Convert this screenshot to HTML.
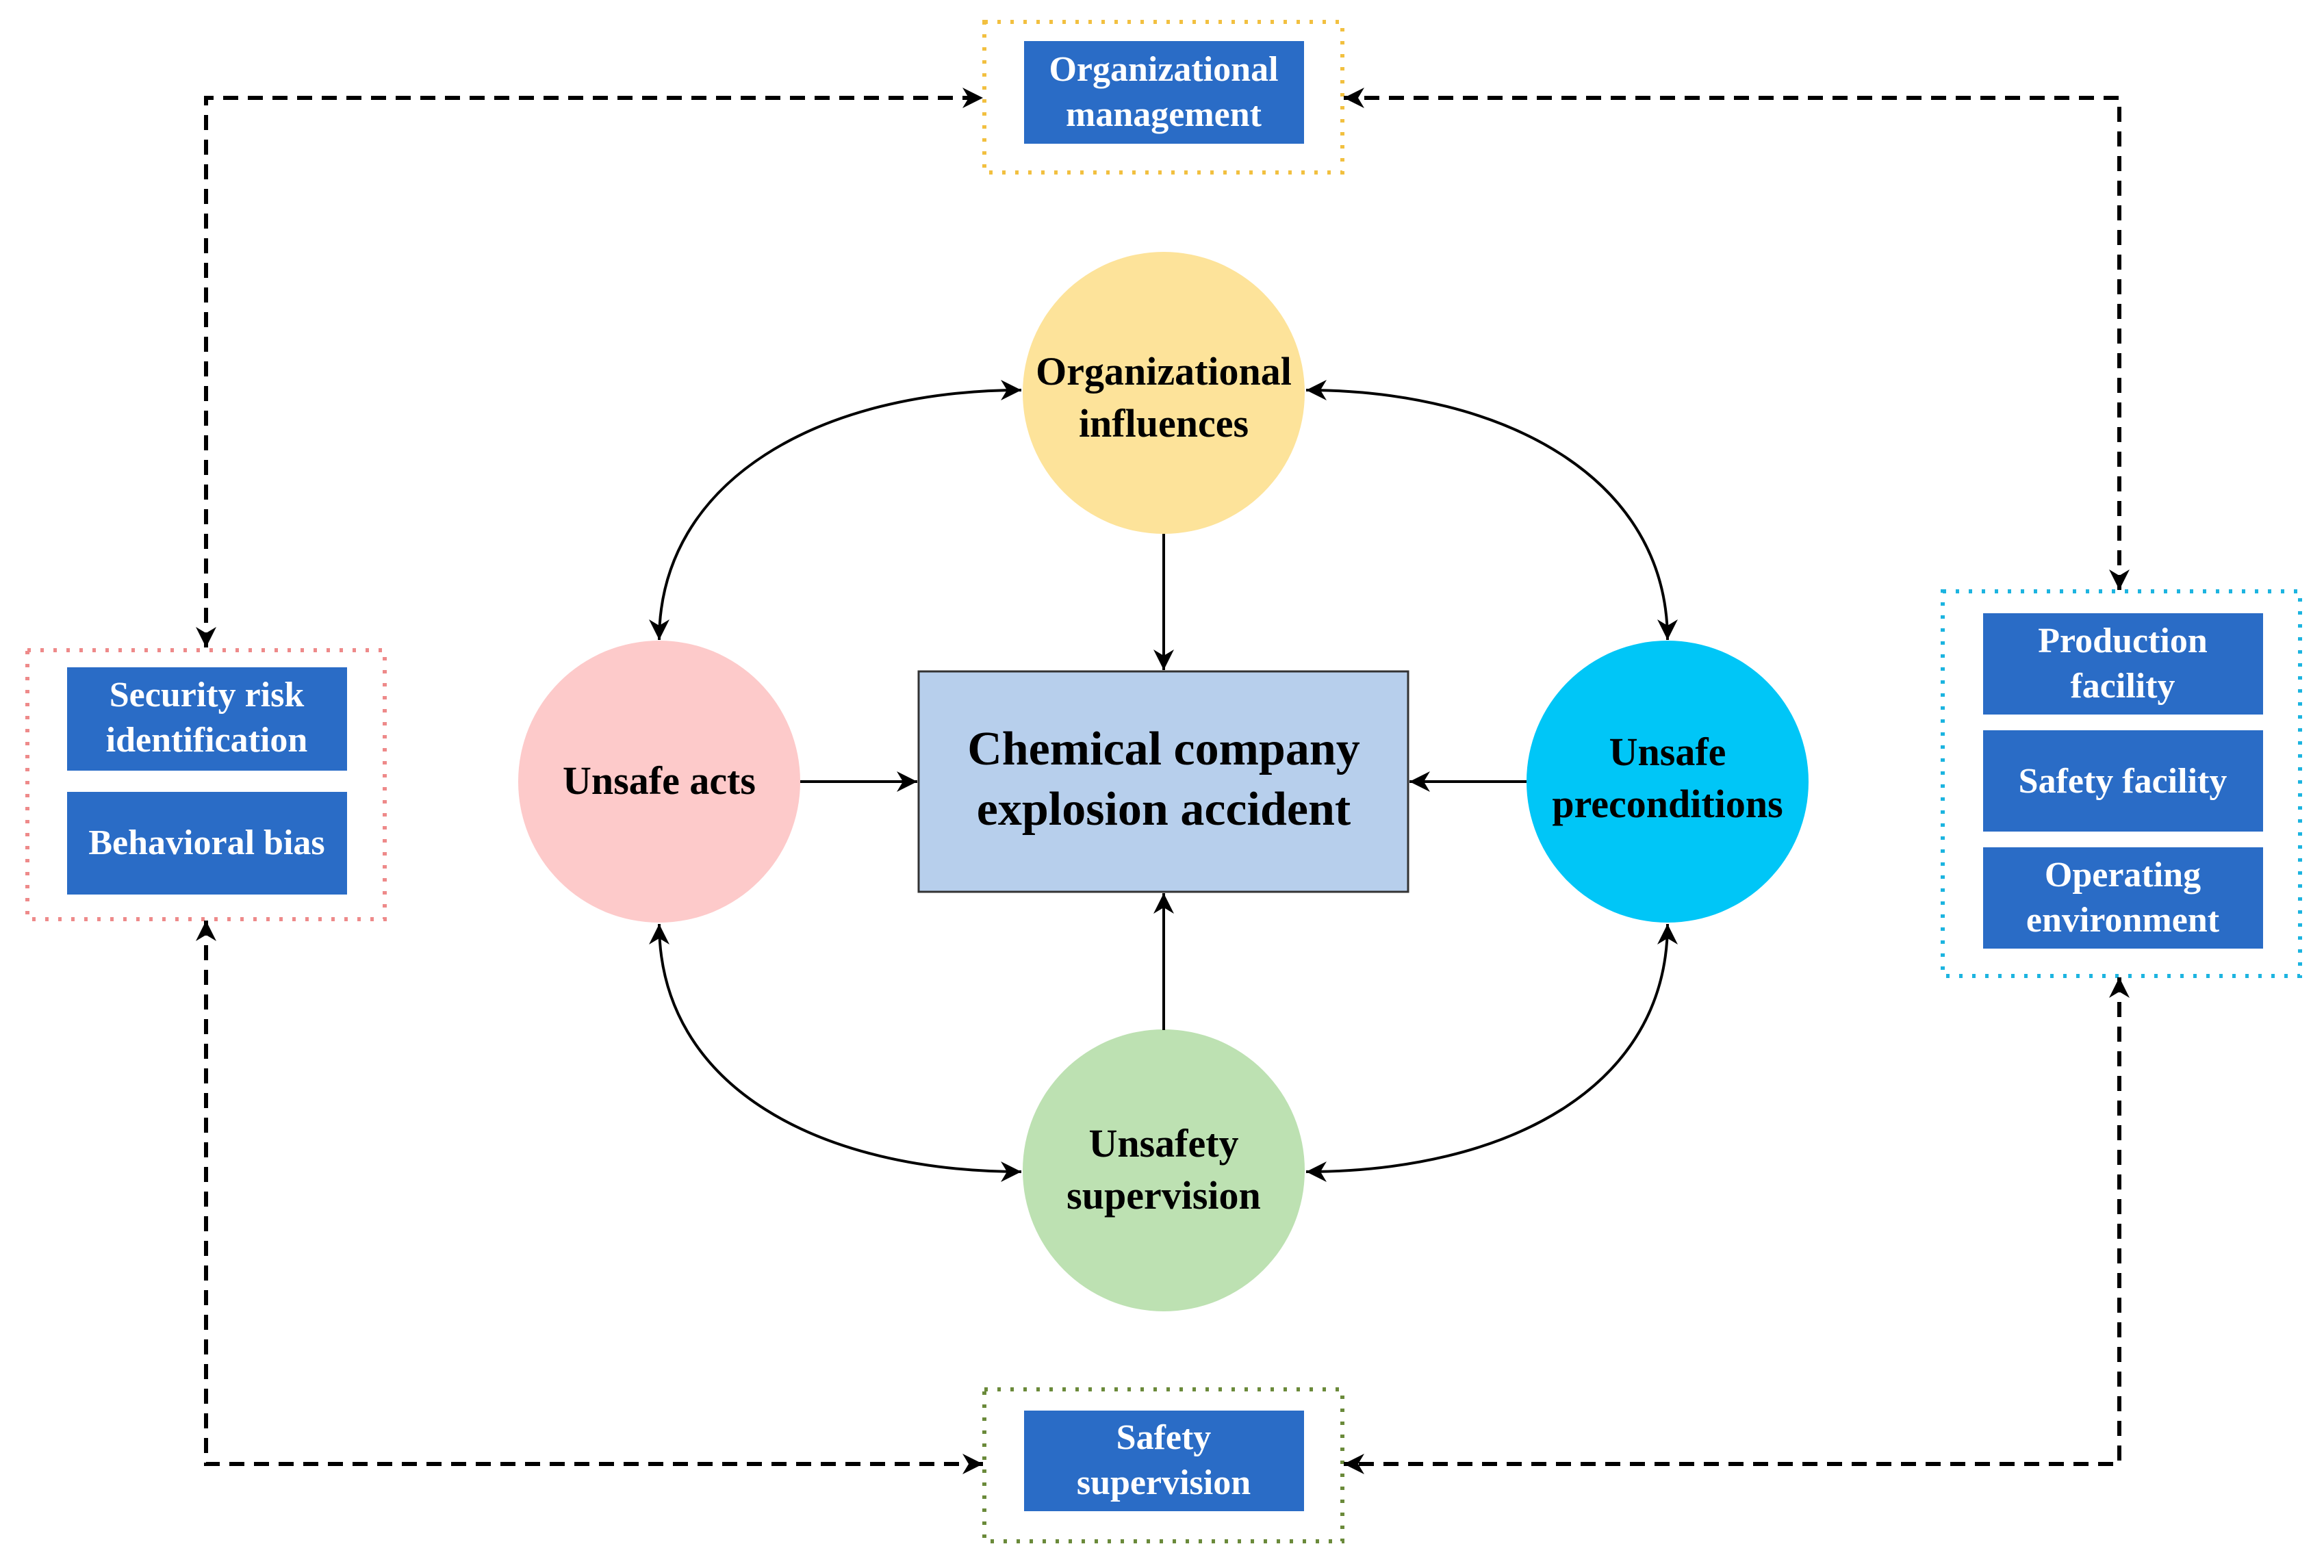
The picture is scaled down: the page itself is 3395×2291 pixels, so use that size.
<!DOCTYPE html>
<html><head><meta charset="utf-8"><style>
html,body{margin:0;padding:0;background:#fff}
svg{display:block}
text{font-family:"Liberation Serif",serif;font-weight:bold}
</style></head><body>
<svg width="3395" height="2291" viewBox="0 0 3395 2291" xmlns="http://www.w3.org/2000/svg">
<defs>
<marker id="a" viewBox="0 0 10 10" refX="9" refY="5" markerWidth="7" markerHeight="7" markerUnits="userSpaceOnUse" orient="auto-start-reverse">
</marker>
<marker id="ah" viewBox="0 0 10 10" refX="10" refY="5" markerWidth="30" markerHeight="30" markerUnits="userSpaceOnUse" orient="auto-start-reverse"><path d="M0,0 L10,5 L0,10 L3,5 z" fill="#000"/></marker>
</defs>

<!-- dotted group boxes -->
<rect x="1438" y="32" width="523" height="220" fill="none" stroke="#f2c040" stroke-width="6" stroke-dasharray="5 14"/>
<rect x="40" y="950" width="522" height="393" fill="none" stroke="#ee8a8a" stroke-width="6" stroke-dasharray="5 14"/>
<rect x="2838" y="864" width="522" height="562" fill="none" stroke="#1cb4e0" stroke-width="6" stroke-dasharray="5 14"/>
<rect x="1438" y="2030" width="523" height="222" fill="none" stroke="#6a8a3a" stroke-width="6" stroke-dasharray="5 14"/>

<!-- blue boxes -->
<g fill="#2a6cc6">
<rect x="1496" y="60" width="409" height="150"/>
<rect x="98" y="975" width="409" height="151"/>
<rect x="98" y="1157" width="409" height="150"/>
<rect x="2897" y="896" width="409" height="148"/>
<rect x="2897" y="1067" width="409" height="148"/>
<rect x="2897" y="1238" width="409" height="148"/>
<rect x="1496" y="2061" width="409" height="147"/>
</g>
<g fill="#fff" font-size="52" text-anchor="middle">
<text x="1700" y="118">Organizational</text>
<text x="1700" y="184">management</text>
<text x="302" y="1032">Security risk</text>
<text x="302" y="1098">identification</text>
<text x="302" y="1248">Behavioral bias</text>
<text x="3101" y="953">Production</text>
<text x="3101" y="1019">facility</text>
<text x="3101" y="1158">Safety facility</text>
<text x="3101" y="1295">Operating</text>
<text x="3101" y="1361">environment</text>
<text x="1700" y="2117">Safety</text>
<text x="1700" y="2183">supervision</text>
</g>

<!-- circles -->
<circle cx="1700" cy="574" r="206" fill="#fde39a"/>
<circle cx="963" cy="1142" r="206" fill="#fdcaca"/>
<circle cx="2436" cy="1142" r="206" fill="#00c6f7"/>
<circle cx="1700" cy="1710" r="206" fill="#bde1b2"/>
<rect x="1342" y="981" width="715" height="322" fill="#b7cfec" stroke="#333" stroke-width="3"/>

<g fill="#000" font-size="58" text-anchor="middle">
<text x="1700" y="562">Organizational</text>
<text x="1700" y="638">influences</text>
<text x="963" y="1160">Unsafe acts</text>
<text x="2436" y="1118">Unsafe</text>
<text x="2436" y="1194">preconditions</text>
<text x="1700" y="1690">Unsafety</text>
<text x="1700" y="1766">supervision</text>
<text x="1700" y="1117" font-size="70">Chemical company</text>
<text x="1700" y="1205" font-size="70">explosion accident</text>
</g>

<!-- solid connectors -->
<g stroke="#000" stroke-width="4" fill="none">
<line x1="1700" y1="780" x2="1700" y2="979" marker-end="url(#ah)"/>
<line x1="1169" y1="1142" x2="1340" y2="1142" marker-end="url(#ah)"/>
<line x1="2230" y1="1142" x2="2059" y2="1142" marker-end="url(#ah)"/>
<line x1="1700" y1="1505" x2="1700" y2="1305" marker-end="url(#ah)"/>
<path d="M963,935 C963,700 1200,570 1492,570" marker-start="url(#ah)" marker-end="url(#ah)"/>
<path d="M2436,935 C2436,700 2200,570 1908,570" marker-start="url(#ah)" marker-end="url(#ah)"/>
<path d="M963,1350 C963,1590 1200,1712 1492,1712" marker-start="url(#ah)" marker-end="url(#ah)"/>
<path d="M2436,1350 C2436,1590 2200,1712 1908,1712" marker-start="url(#ah)" marker-end="url(#ah)"/>
</g>

<!-- dashed connectors -->
<g stroke="#000" stroke-width="6" fill="none" stroke-dasharray="22 14">
<polyline points="301,946 301,143 1436,143" marker-start="url(#ah)" marker-end="url(#ah)"/>
<polyline points="3096,862 3096,143 1963,143" marker-start="url(#ah)" marker-end="url(#ah)"/>
<polyline points="301,1345 301,2139 1436,2139" marker-start="url(#ah)" marker-end="url(#ah)"/>
<polyline points="3096,1428 3096,2139 1963,2139" marker-start="url(#ah)" marker-end="url(#ah)"/>
</g>
</svg>
</body></html>
